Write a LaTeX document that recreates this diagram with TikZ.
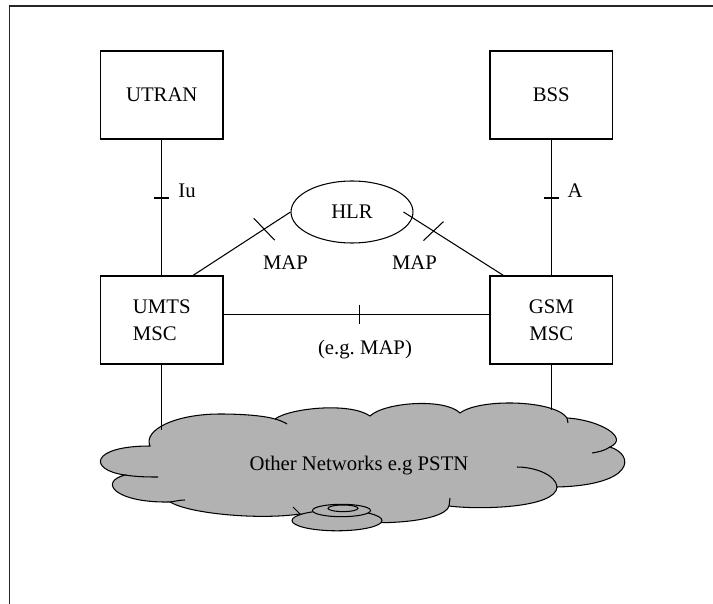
\documentclass[tikz,border=0pt]{standalone}
\usepackage{fontspec}
\setmainfont{Liberation Serif}
\usetikzlibrary{shapes.geometric}
\tikzset{
  netbox/.style={draw, minimum width=2.45cm, minimum height=1.76cm, inner sep=0pt, align=center},
  hlrnode/.style={draw, ellipse, minimum width=2.44cm, minimum height=1.24cm, inner sep=0pt},
  cloudgray/.style={fill=black!30, draw=black},
}
\begin{document}
\begin{tikzpicture}[x=0.02cm, y=-0.02cm, line width=0.6pt, font=\fontsize{11.8}{15.4}\selectfont]
\useasboundingbox (0,0) rectangle (713,604);
\draw [line width=1.1pt, black!85] (9.5,604) -- (9.5,6) -- (713,6);
% network elements
\node [netbox] (utran) at (161.75,95) {UTRAN};
\node [netbox] (bss) at (551.25,95) {BSS};
\node [netbox, align=left] (umsc) at (161.75,320) {UMTS\\MSC};
\node [netbox] (gmsc) at (551.25,320) {GSM\\MSC};
\node [hlrnode] (hlr) at (352,212) {HLR};
% cloud
\draw [cloudgray] (150,446) .. controls (143,430) and (175,414) .. (220,414)
  .. controls (245,414) and (265,416) .. (275,419)
  .. controls (290,408) and (350,402) .. (370,416)
  .. controls (385,402) and (445,398) .. (460,413)
  .. controls (480,398) and (555,400) .. (567,418)
  .. controls (600,420) and (630,438) .. (610,447)
  .. controls (635,455) and (635,485) .. (557,487)
  .. controls (556,508) and (480,510) .. (449,506)
  .. controls (445,522) and (370,530) .. (300,514)
  .. controls (260,520) and (190,514) .. (170,502)
  .. controls (115,503) and (98,482) .. (125,475)
  .. controls (88,470) and (90,446) .. (150,446) -- cycle;
\draw (125,475) .. controls (137,477) and (150,477) .. (158,477);
\draw (170,502) .. controls (176,501) and (181,500) .. (185,500);
\draw (275,419) .. controls (279,420) and (284,422) .. (287,424);
\draw (567,418) -- (568,423);
\draw (610,447) .. controls (604,451) and (598,452) .. (592,453);
\draw (557,487) .. controls (556,475) and (535,467) .. (517,467);
\draw (449,506) -- (450,498);
\draw (300,514) -- (293,507);
\node (pstn) at (359,466) {Other Networks e.g PSTN};
\draw [cloudgray] (337,520.5) ellipse [x radius=45, y radius=10.3];
\draw [cloudgray] (341.5,510.5) ellipse [x radius=29, y radius=6.2];
\draw [cloudgray] (343,508.3) ellipse [x radius=15, y radius=3.3];
\coordinate (cl) at (161.75,430);
\coordinate (cr) at (551.25,410);
% interfaces
\draw (utran) -- (umsc) coordinate [pos=0.43] (iutick);
\draw (iutick) ++(-7.5,0) -- ++(15,0);
\node (iulbl) at (187,191) {Iu};
\draw (bss) -- (gmsc) coordinate [pos=0.43] (atick);
\draw (atick) ++(-7.5,0) -- ++(15,0);
\node (albl) at (575,191) {A};
\draw (hlr.west) -- (umsc.55) coordinate [pos=0.27] (ltick);
\draw (ltick) ++(-10.5,-11) -- ++(21,22);
\node (maplbl1) at (285.5,263) {MAP};
\draw (hlr.east) ++(-10,0) -- (gmsc.137) coordinate [pos=0.3] (rtick);
\draw (rtick) ++(-10,9.5) -- ++(20,-19);
\node (maplbl2) at (414.5,263) {MAP};
\draw (umsc.5) -- (gmsc.175) coordinate [pos=0.513] (htick);
\draw (htick) ++(0,-9.5) -- ++(0,19);
\node (maplbl3) at (365,350) {(e.g.\ MAP)};
\draw (umsc) -- (cl);
\draw (gmsc) -- (cr);
\end{tikzpicture}
\end{document}
